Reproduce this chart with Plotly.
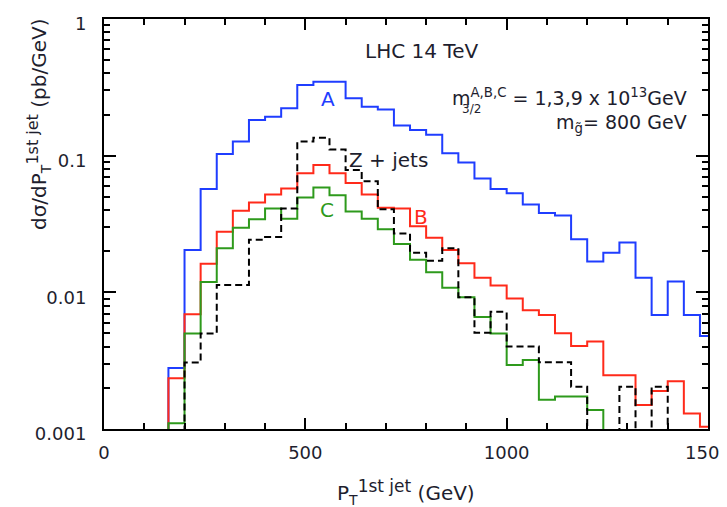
import plotly.graph_objects as go

# Bin lower edges (GeV), 40 GeV bins
bin_left = [160, 200, 240, 280, 320, 360, 400, 440, 480, 520, 560, 600, 640, 680,
            720, 760, 800, 840, 880, 920, 960, 1000, 1040, 1080, 1120, 1160, 1200,
            1240, 1280, 1320, 1360, 1400, 1440, 1480]
bin_width = 40
BELOW = 1e-5  # below the plotted range (empty / off-scale bins)

blue_A = [0.0028, 0.0204, 0.057, 0.103, 0.127, 0.182, 0.193, 0.222, 0.329, 0.348,
          0.348, 0.263, 0.228, 0.218, 0.166, 0.154, 0.142, 0.104, 0.089, 0.068,
          0.057, 0.053, 0.044, 0.038, 0.0365, 0.0245, 0.0168, 0.0195, 0.0232,
          0.0128, 0.00684, 0.012, 0.00684, 0.0048]
red_B = [0.00235, 0.0069, 0.0162, 0.0277, 0.0395, 0.0455, 0.052, 0.0575, 0.0745,
         0.0855, 0.0745, 0.063, 0.052, 0.0415, 0.041, 0.0305, 0.0251, 0.0204,
         0.0163, 0.0128, 0.0112, 0.009, 0.0074, 0.00684, 0.00502, 0.00405,
         0.00436, 0.00247, 0.00247, 0.0015, 0.0019, 0.00224, 0.0013, 0.00104]
green_C = [0.0011, 0.0050, 0.0119, 0.021, 0.0297, 0.0343, 0.041, 0.0345, 0.0495,
           0.0585, 0.0513, 0.039, 0.0346, 0.029, 0.0226, 0.0173, 0.014, 0.0108,
           0.0092, 0.0066, 0.0050, 0.00294, 0.0032, 0.00164, 0.00173, 0.00173,
           0.00138, BELOW, BELOW, BELOW, BELOW, BELOW, BELOW, BELOW]
black_Z = [BELOW, 0.00306, 0.0050, 0.0113, 0.0113, 0.0243, 0.0254, 0.041, 0.127,
           0.135, 0.111, 0.0786, 0.065, 0.0405, 0.027, 0.0195, 0.017, 0.021,
           0.0092, 0.00507, 0.0072, 0.00401, 0.00401, 0.00308, 0.00308, 0.00204,
           BELOW, BELOW, 0.00204, BELOW, 0.00204, BELOW, BELOW, BELOW]

x_ticks = [0, 500, 1000, 1500]
x_ticklabels = ["0", "500", "1000", "1500"]
y_ticks = [0.001, 0.01, 0.1, 1]
y_ticklabels = ["0.001", "0.01", "0.1", "1"]

FONT = "DejaVu Sans"
TXT = "#1e1e2e"
C_BLUE = "#1f3dff"
C_RED = "#ff2a1a"
C_GREEN = "#2e9a1c"
C_BLACK = "#000000"

# page offset (browser body margin) and plot-area geometry in screen pixels
PAGE = 8
P_L, P_R, P_T, P_B = 104, 708, 19, 429


def px(x):
    return (x - P_L) / (P_R - P_L)


def py(y):
    return (P_B - y) / (P_B - P_T)


def step_xy(vals):
    xs = [bin_left[0]] + bin_left + [bin_left[-1] + bin_width]
    ys = [BELOW] + vals + [vals[-1]]
    return xs, ys


fig = go.Figure()
for vals, col, dash in [(blue_A, C_BLUE, "solid"), (red_B, C_RED, "solid"),
                        (green_C, C_GREEN, "solid"), (black_Z, C_BLACK, "7px,4px")]:
    xs, ys = step_xy(vals)
    fig.add_trace(go.Scatter(x=xs, y=ys, mode="lines",
                             line=dict(color=col, width=2, dash=dash, shape="hv"),
                             showlegend=False, hoverinfo="skip"))

minor_y = [m * 10 ** e for e in (-3, -2, -1) for m in range(2, 10)]

W, H = 727 - PAGE, 507 - PAGE
fig.update_layout(
    width=W, height=H,
    margin=dict(l=P_L - PAGE, r=727 - P_R, t=P_T - PAGE, b=507 - P_B, pad=0,
                autoexpand=False),
    paper_bgcolor="white", plot_bgcolor="white",
    font=dict(family=FONT, size=18, color=TXT),
    xaxis=dict(range=[0, 1500], tickmode="array", tickvals=x_ticks, ticktext=x_ticklabels,
               ticks="inside", ticklen=11, tickwidth=2, tickcolor="black",
               showline=True, linewidth=2, linecolor="black", mirror="ticks",
               showgrid=False, zeroline=False, ticklabelstandoff=6,
               automargin=False, ticklabeloverflow="allow",
               minor=dict(tickmode="linear", tick0=0, dtick=100, ticks="inside",
                          ticklen=6, tickwidth=2, tickcolor="black", showgrid=False),
               tickfont=dict(size=18, family=FONT, color=TXT)),
    yaxis=dict(type="log", range=[-3, 0], tickmode="array", tickvals=y_ticks,
               ticktext=y_ticklabels,
               ticks="inside", ticklen=12, tickwidth=2, tickcolor="black",
               showline=True, linewidth=2, linecolor="black", mirror="ticks",
               showgrid=False, zeroline=False, ticklabelstandoff=12,
               ticklabelshift=5, automargin=False, ticklabeloverflow="allow",
               minor=dict(tickmode="array", tickvals=minor_y, ticks="inside",
                          ticklen=6, tickwidth=2, tickcolor="black", showgrid=False),
               tickfont=dict(size=18, family=FONT, color=TXT)),
)


def note(x, y, text, size=20, color=TXT, xanchor="center", **kw):
    return dict(x=px(x), y=py(y), xref="paper", yref="paper", text=text,
                xanchor=xanchor, yanchor="middle", showarrow=False,
                font=dict(size=size, color=color, family=FONT), **kw)


ann = [
    note(421, 51, "LHC 14 TeV"),
    note(328, 99, "A", color=C_BLUE),
    note(388, 160, "Z + jets"),
    note(421, 217, "B", color=C_RED),
    note(327, 210, "C", color=C_GREEN),
    note(689, 97, "m<sup>A,B,C</sup> = 1,3,9 x 10<sup>13</sup>GeV", size=19,
         xanchor="right"),
    note(460, 109, "3/2", size=12, xanchor="left"),
    note(689, 123, "m<sub>g̃</sub>= 800 GeV", size=19, xanchor="right"),
    # axis titles
    note(38, 125, "dσ/dP<sub>T</sub><sup><span style='font-size:16px'>1st jet</span></sup> (pb/GeV)",
         size=20, textangle=-90),
    note(406, 492, "P<sub>T</sub><sup><span style='font-size:17px'>1st jet</span></sup> (GeV)",
         size=20),
]
fig.update_layout(annotations=ann)

fig.write_html("out.html")
